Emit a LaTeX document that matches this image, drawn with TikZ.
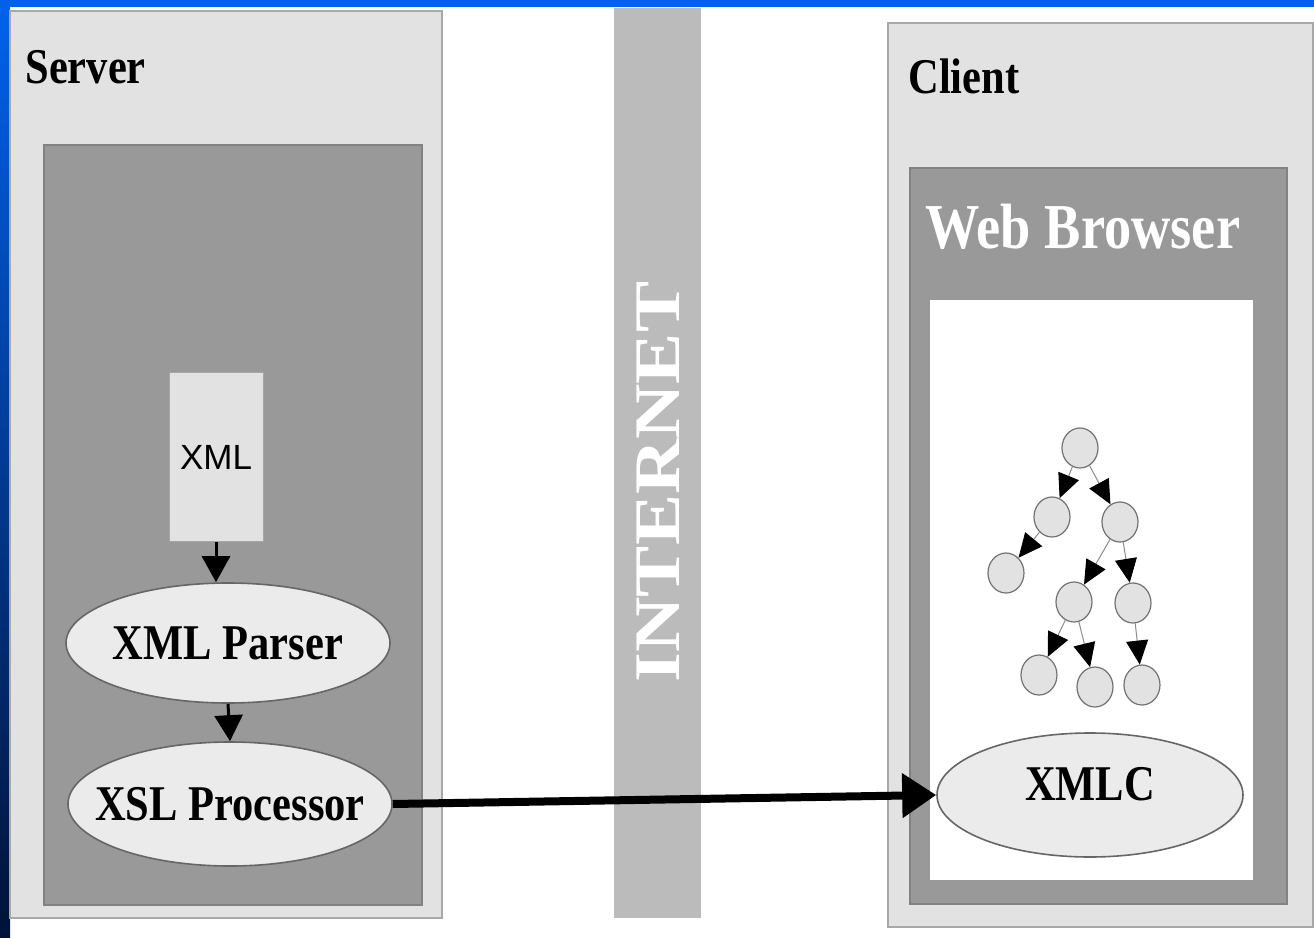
\documentclass[tikz,border=0pt]{standalone}
\usepackage{fontspec}
\setsansfont{Liberation Sans}
\newfontfamily\captionfont[FakeStretch=0.85]{Liberation Serif}
\newfontfamily\bandfont[FakeStretch=1.18]{Liberation Serif}
\usetikzlibrary{arrows.meta,shapes.geometric}

\definecolor{panelgray}{HTML}{E2E2E2}
\definecolor{boxgray}{HTML}{999999}
\definecolor{bandgray}{HTML}{BBBBBB}
\definecolor{rimgray}{HTML}{A8A8A8}
\definecolor{slidetop}{HTML}{0062EC}
\definecolor{slidebottom}{HTML}{001238}

\begin{document}
\begin{tikzpicture}[
				x=0.5pt, y=-0.5pt,
				panel/.style={fill=panelgray, draw=rimgray, line width=1pt},
				inset/.style={fill=boxgray, draw=boxgray!85!black, line width=1pt},
				title/.style={font=\captionfont\bfseries\fontsize{25}{30}\selectfont, inner sep=0, anchor=base west},
				blob/.style={ellipse, fill=panelgray!70!white, draw=black!60, line width=0.8pt,
					inner xsep=-12pt, inner ysep=0, font=\captionfont\bfseries\fontsize{25}{30}\selectfont},
				leaf/.style={ellipse, fill=panelgray, draw=black!55, line width=0.6pt,
					minimum width=18pt, minimum height=20pt, inner sep=0},
				flow/.style={line width=1.5pt, -{Triangle[length=13pt,width=14pt]}},
				twig/.style={draw=black!45, line width=0.5pt, -{Triangle[length=12pt,width=11pt,color=black]}},
			]
			\useasboundingbox (0,0) rectangle (1314,938);
			% slide edge
			\fill[slidetop] (0,0) rectangle (1314,7);
			\shade[top color=slidetop, bottom color=slidebottom] (0,0) rectangle (10,938);

			% server side
			\draw[panel] (10,11) rectangle (442,918);
			\draw[inset] (44,145) rectangle (422,905);
			\node[title] (server) at (25,83) {Server};
			\node[fill=panelgray, draw=black!35, line width=0.5pt, minimum width=47pt, minimum height=84.5pt,
				font=\sffamily\fontsize{17.5}{20}\selectfont] (xml) at (216,457) {XML\hspace{4pt}};
			\node[blob, minimum width=162pt, minimum height=60pt] (parser) at (228,643) {XML Parser};
			\node[blob, minimum width=162pt, minimum height=62pt] (xsl) at (230,804) {XSL Processor};
			\draw[flow] (xml.south) -- (xml.south |- parser.north);
			\draw[flow] (parser.south) -- (xsl.north);

			% the net in between
			\fill[bandgray] (614,8) rectangle (701,918);
			\node[rotate=90, text=white, inner sep=0,
				font=\bandfont\bfseries\fontsize{32.5}{36}\selectfont] (net) at (658,482) {INTERNET};

			% client side
			\draw[panel] (888,23) rectangle (1313,927);
			\draw[inset] (910,168) rectangle (1287,904);
			\fill[white] (930,300) rectangle (1253,880);
			\node[title] (client) at (908,93) {Client};
			\node[title, text=white, font=\captionfont\bfseries\fontsize{32}{36}\selectfont] (browser) at (925,248) {Web Browser};
			\node[blob, minimum width=153pt, minimum height=62pt, text depth=11pt] (xmlc) at (1090,795) {XMLC};

			% document tree
			\node[leaf] (t1) at (1080,448) {};
			\node[leaf] (t2) at (1052,517) {};
			\node[leaf] (t3) at (1120,522) {};
			\node[leaf] (t4) at (1006,573) {};
			\node[leaf] (t5) at (1074,602) {};
			\node[leaf] (t6) at (1133,603) {};
			\node[leaf] (t7) at (1039,675) {};
			\node[leaf] (t8) at (1095,687) {};
			\node[leaf] (t9) at (1142,685) {};
			\draw[twig] (t1) -- (t2);
			\draw[twig] (t1) -- (t3);
			\draw[twig] (t2) -- (t4);
			\draw[twig] (t3) -- (t5);
			\draw[twig] (t3) -- (t6);
			\draw[twig] (t5) -- (t7);
			\draw[twig] (t5) -- (t8);
			\draw[twig] (t6) -- (t9);

			\draw[line width=4pt, -{Triangle[length=17pt,width=21.5pt]}] (xsl.east) -- (xmlc.west);
			\end{tikzpicture}
\end{document}
